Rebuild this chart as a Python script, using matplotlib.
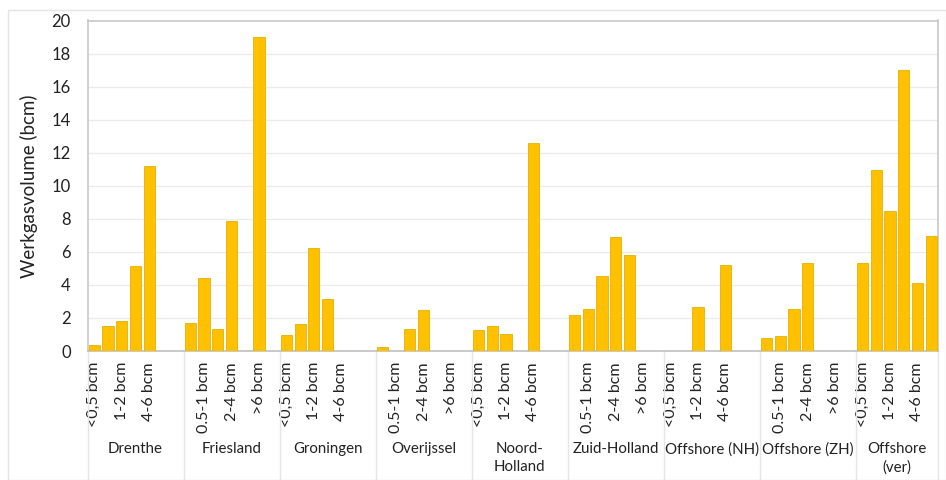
import matplotlib
matplotlib.use("Agg")
import matplotlib.pyplot as plt
import matplotlib.transforms as mtransforms
from matplotlib.patches import Rectangle

plt.rcParams['font.family'] = ['Lato', 'DejaVu Sans']

regions = ["Drenthe", "Friesland", "Groningen", "Overijssel", "Noord-\nHolland",
           "Zuid-Holland", "Offshore (NH)", "Offshore (ZH)", "Offshore\n(ver)"]
size_classes = ["<0,5 bcm", "0.5-1 bcm", "1-2 bcm", "2-4 bcm", "4-6 bcm", ">6 bcm"]

drenthe = [0.36, 1.5, 1.8, 5.17, 11.2, 0]
friesland = [1.72, 4.44, 1.35, 7.88, 0, 19.0]
groningen = [0.99, 1.65, 6.24, 3.13, 0, 0]
overijssel = [0.24, 0, 1.33, 2.5, 0, 0]
noord_holland = [1.27, 1.5, 1.01, 0, 12.58, 0]
zuid_holland = [2.16, 2.57, 4.53, 6.87, 5.8, 0]
offshore_nh = [0, 0, 2.65, 0, 5.21, 0]
offshore_zh = [0.81, 0.93, 2.52, 5.33, 0, 0]
offshore_ver = [5.31, 10.95, 8.5, 17.0, 4.14, 6.93]

values = [drenthe, friesland, groningen, overijssel, noord_holland,
          zuid_holland, offshore_nh, offshore_zh, offshore_ver]

W, H = 946, 480
fig = plt.figure(figsize=(W / 100, H / 100), dpi=100)
left, right, top, bottom = 87.5, 938, 20.5, 351
ax = fig.add_axes([left / W, (H - bottom) / H, (right - left) / W, (bottom - top) / H])

# outer chart frame
fig.patches.append(Rectangle((8 / W, 0), 1 - 8 / W, 1 - 10 / H, transform=fig.transFigure,
                             fill=False, edgecolor='#e4e4e4', linewidth=1))

slot = 7
positions, heights, labels = [], [], {}
for g, vals in enumerate(values):
    for j, v in enumerate(vals):
        p = g * slot + j
        positions.append(p)
        heights.append(v)
        labels[p] = size_classes[j]
n_slots = (len(values) - 1) * slot + len(size_classes)

ax.bar(positions, heights, width=0.82, color='#FFC000', edgecolor='#e2b200', linewidth=0.6, zorder=3)

ax.set_xlim(-0.5, n_slots - 0.5)
ax.set_ylim(0, 20)
ax.set_yticks(range(0, 21, 2))
ax.grid(axis='y', color='#ebebeb', linewidth=1, zorder=0)
ax.tick_params(axis='y', length=0, pad=12, labelsize=12, labelcolor='#222222')

tick_pos = list(range(0, n_slots, 2))
ax.set_xticks(tick_pos)
ax.set_xticklabels([labels.get(p, '') for p in tick_pos], rotation=90, fontsize=11.5, color='#222222')
ax.tick_params(axis='x', length=0, pad=8)

for s in ['left', 'top', 'right']:
    ax.spines[s].set_color('#c8c8c8')
    ax.spines[s].set_linewidth(1.2)
ax.spines['bottom'].set_color('#c0c0c0')
ax.spines['bottom'].set_linewidth(1.2)

ax.set_ylabel("Werkgasvolume (bcm)", fontsize=13.5, color='#222222')
ax.yaxis.set_label_coords(-0.058, 0.5)

trans = mtransforms.blended_transform_factory(ax.transData, ax.transAxes)
ybot = -(H - bottom) / (bottom - top)
seps = [g * slot - 0.5 for g in range(len(values))] + [n_slots - 0.5]
for x in seps:
    ax.plot([x, x], [0, ybot], transform=trans, color='#e6e6e6', linewidth=1, clip_on=False)

ylab = -(442 - bottom) / (bottom - top)
for g, name in enumerate(regions):
    start = g * slot - 0.5
    end = min(g * slot + slot - 0.5, n_slots - 0.5)
    ax.text((start + end) / 2, ylab, name, transform=trans, ha='center', va='top',
            fontsize=10.8, color='#222222', linespacing=1.35)

fig.savefig("out.png", dpi=100)
